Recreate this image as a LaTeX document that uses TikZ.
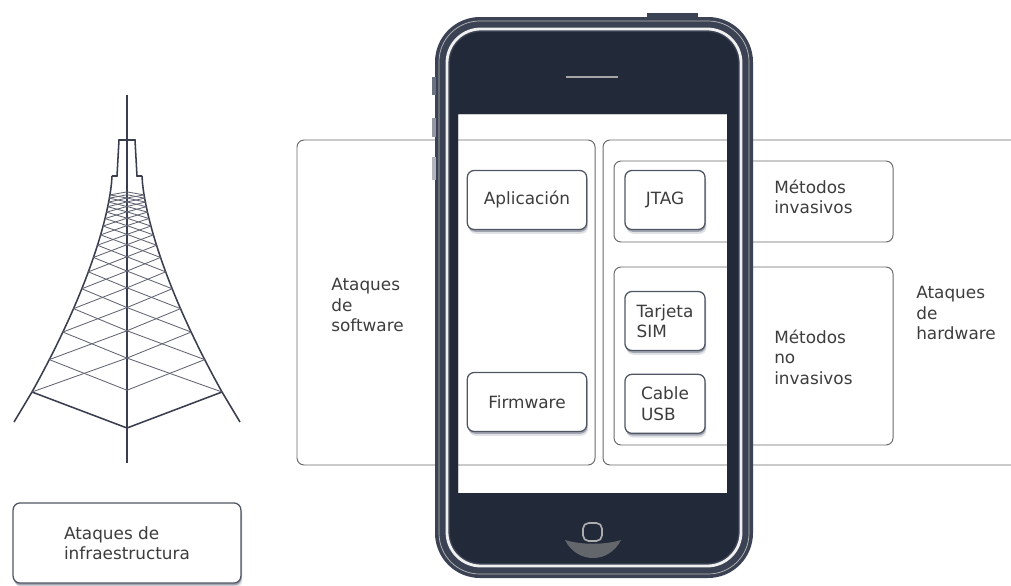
\documentclass[tikz,border=0pt]{standalone}
\usepackage{fontspec}
\setmainfont{DejaVu Sans}
\usetikzlibrary{positioning,shadows}

\definecolor{rimc}{HTML}{3B4254}
\definecolor{facec}{HTML}{222A3A}
\definecolor{inkc}{HTML}{3D3D3D}
\definecolor{framec}{HTML}{6A6A6A}
\definecolor{cardc}{HTML}{4F5562}
\definecolor{shadowc}{HTML}{2A3550}
\definecolor{towerc}{HTML}{3A3D4E}

\newcommand{\labelfont}{\fontsize{12}{14.5}\selectfont}

\tikzset{
  frame/.style={draw=framec, line width=0.7pt, rounded corners=5pt},
  card/.style={draw=cardc, line width=0.9pt, rounded corners=5pt, fill=white,
    align=left, text=inkc, font=\labelfont,
    drop shadow={shadow xshift=1pt, shadow yshift=-3pt, opacity=.15, fill=shadowc},
    drop shadow={shadow xshift=0.5pt, shadow yshift=-1.6pt, opacity=.35, fill=shadowc}},
  lbl/.style={align=left, inner sep=0pt, anchor=west, text=inkc, font=\labelfont},
  leg/.style={draw=towerc, line width=1.1pt},
  truss/.style={draw=towerc!80, line width=0.6pt},
}

\begin{document}
\begin{tikzpicture}[x=0.025cm, y=-0.025cm]
    \useasboundingbox (0,0) rectangle (1011,585);

    % frames of the two attack groups (partly hidden by the phone)
    \draw[frame] (297,140) rectangle (595,465);
    \draw[frame] (603,140) rectangle (1030,465);
    \draw[frame] (614,161) rectangle (893,242);
    \draw[frame] (614,267) rectangle (893,445);

    % tower
    \draw[leg] (127,95) -- (127,463);
    \draw[leg] (112,176) -- (117,176) -- (119,140) -- (135,140) -- (137,176) -- (142,176);
    \draw[leg] plot[domain=0:1, samples=30] ({112-80*\x*sqrt(\x)}, {176+216*\x}) -- (14,422);
    \draw[leg] plot[domain=0:1, samples=30] ({142+80*\x*sqrt(\x)}, {176+216*\x}) -- (240,422);
    \draw[leg] (32,392) -- (127,428) -- (222,392);
    \foreach \k in {0,...,15} {
        \pgfmathsetmacro\sa{0.85^\k}
        \pgfmathsetmacro\sb{0.85^(\k+2)}
        \draw[truss] ({112-80*\sa*sqrt(\sa)},{176+216*\sa}) -- (127,{176+252*\sb});
        \draw[truss] ({142+80*\sa*sqrt(\sa)},{176+216*\sa}) -- (127,{176+252*\sb});
        \ifnum\k>0
            \draw[truss] ({112-80*\sa*sqrt(\sa)},{176+216*\sa}) -- (127,{176+252*\sa});
            \draw[truss] ({142+80*\sa*sqrt(\sa)},{176+216*\sa}) -- (127,{176+252*\sa});
        \fi
    }

    % phone body, screen left open
    \fill[rimc, even odd rule] [rounded corners=32pt] (435,17) rectangle (753,578)
        [sharp corners] (458,114) rectangle (727,493);
    \fill[rimc] (647,13) rectangle (698,19);
    \fill[rimc!75] (432,77) rectangle (436,95);
    \fill[rimc!55] (432,118) rectangle (436,137);
    \fill[rimc!40] (432,157) rectangle (436,180);
    \draw[gray!55, line width=0.5pt, rounded corners=29pt] (439,21) rectangle (749,574);
    \draw[white!88!gray, line width=2pt, rounded corners=24pt] (447,29) rectangle (741,566);
    \fill[facec, even odd rule] [rounded corners=22pt] (450,32) rectangle (738,563)
        [sharp corners] (458,114) rectangle (727,493);
    \draw[gray!70, line width=1.3pt] (566,77) -- (618,77);
    \fill[gray!70!facec] (565,540) .. controls (577,564) and (609,564) .. (621,540)
        .. controls (605,545) and (581,545) .. (565,540) -- cycle;
    \draw[gray!65, line width=1.2pt, rounded corners=4pt] (583,523) rectangle (602,541);

    % attack vectors inside the phone
    \node[card, minimum width=85pt, minimum height=42pt] (app) at (527,200) {Aplicación};
    \node[card, minimum width=85pt, minimum height=42pt] (fw) at (527,402) {Firmware};
    \node[card, minimum width=57pt, minimum height=42pt] (jtag) at (665,200) {JTAG};
    \node[card, minimum width=57pt, minimum height=42pt] (sim) at (665,321) {Tarjeta\\SIM};
    \node[card, minimum width=57pt, minimum height=42pt, below=16pt of sim] (usb) {Cable\\USB};
    \node[card, minimum width=162pt, minimum height=57pt] (infra) at (127,543) {Ataques de\\infraestructura};

    % group labels
    \node[lbl] (sw) at (331,305) {Ataques\\de\\software};
    \node[lbl] (inv) at (774,197) {Métodos\\invasivos};
    \node[lbl] (noinv) at (774,357) {Métodos\\no\\invasivos};
    \node[lbl] (hw) at (916,313) {Ataques\\de\\hardware};
\end{tikzpicture}
\end{document}
